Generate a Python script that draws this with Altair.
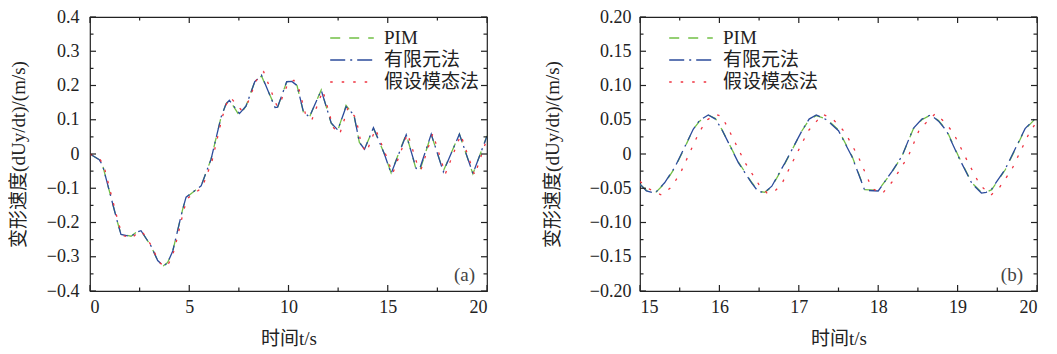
import altair as alt
import pandas as pd

SERIES = ["PIM", "有限元法", "假设模态法"]
COLORS = ["#72c046", "#2c4c9c", "#ef3340"]
DASHES = [[10, 9], [15, 5, 2, 5], [2.5, 9]]

# ---------- panel (a): 0-20 s ----------
a_pim_t = [0, 0.47, 0.64, 1.39, 1.56, 2.07, 2.32, 2.57, 3.07, 3.41, 3.7, 3.91, 4.17, 4.67, 4.84,
           5.6, 6.1, 6.6, 6.85, 7.02, 7.53, 7.86, 8.3, 8.64, 9.32, 9.45, 9.91, 10.17, 10.43, 10.75,
           11.05, 11.65, 12.15, 12.48, 12.9, 13.3, 13.57, 13.83, 14.28, 14.83, 15.17, 15.93, 16.43,
           16.6, 17.19, 17.8, 18.61, 19.29, 20.0]
a_pim_v = [0, -0.017, -0.034, -0.2, -0.234, -0.24, -0.229, -0.224, -0.268, -0.311, -0.326, -0.317,
           -0.283, -0.161, -0.127, -0.093, -0.015, 0.107, 0.146, 0.158, 0.112, 0.14, 0.211, 0.228,
           0.138, 0.136, 0.211, 0.214, 0.2, 0.122, 0.107, 0.187, 0.09, 0.068, 0.142, 0.112, 0.034,
           0.015, 0.075, 0.0, -0.055, 0.058, -0.045, -0.052, 0.057, -0.05, 0.058, -0.058, 0.053]
a_fem_t = a_pim_t
a_fem_v = [0, -0.017, -0.034, -0.2, -0.235, -0.241, -0.229, -0.224, -0.268, -0.311, -0.327, -0.318,
           -0.283, -0.161, -0.126, -0.093, -0.015, 0.107, 0.146, 0.157, 0.118, 0.14, 0.211, 0.23,
           0.136, 0.137, 0.211, 0.212, 0.2, 0.124, 0.108, 0.186, 0.091, 0.07, 0.138, 0.114, 0.034,
           0.014, 0.077, 0.0, -0.057, 0.056, -0.042, -0.045, 0.058, -0.052, 0.058, -0.057, 0.052]
a_asm_t = [0, 0.5, 0.7, 1.45, 1.65, 2.12, 2.35, 2.62, 3.12, 3.46, 3.78, 3.98, 4.25, 4.72, 4.9,
           5.65, 6.15, 6.65, 6.9, 7.08, 7.6, 7.92, 8.38, 8.75, 9.42, 9.55, 10.0, 10.27, 10.5, 10.85,
           11.18, 11.73, 12.25, 12.58, 13.0, 13.4, 13.68, 13.93, 14.38, 14.92, 15.25, 16.0, 16.55,
           16.68, 17.27, 17.9, 18.68, 19.38, 20.0]
a_asm_v = [0, -0.015, -0.035, -0.205, -0.238, -0.246, -0.232, -0.226, -0.27, -0.315, -0.33, -0.318,
           -0.28, -0.165, -0.13, -0.098, -0.02, 0.105, 0.15, 0.165, 0.13, 0.145, 0.215, 0.24, 0.14,
           0.145, 0.21, 0.215, 0.195, 0.118, 0.1, 0.185, 0.078, 0.058, 0.135, 0.105, 0.025, 0.005,
           0.073, -0.005, -0.057, 0.06, -0.042, -0.045, 0.06, -0.058, 0.056, -0.062, 0.045]

# ---------- panel (b): 15-20 s ----------
b_pim_t = [15.0, 15.08, 15.19, 15.31, 15.44, 15.57, 15.67, 15.75, 15.86, 15.95, 16.03, 16.24, 16.41,
           16.49, 16.57, 16.66, 16.83, 17.04, 17.13, 17.22, 17.35, 17.5, 17.67, 17.83, 18.0, 18.17,
           18.3, 18.44, 18.55, 18.66, 18.76, 18.86, 19.01, 19.18, 19.3, 19.36, 19.43, 19.6, 19.85, 20.0]
b_pim_v = [-0.044, -0.053, -0.057, -0.043, -0.02, 0.011, 0.036, 0.048, 0.057, 0.052, 0.036, -0.012,
           -0.042, -0.054, -0.056, -0.048, -0.013, 0.034, 0.05, 0.056, 0.051, 0.035, -0.003, -0.052,
           -0.053, -0.027, -0.003, 0.036, 0.05, 0.057, 0.049, 0.035, -0.003, -0.042, -0.056, -0.056,
           -0.052, -0.023, 0.036, 0.054]
b_fem_t = b_pim_t
b_fem_v = [-0.044, -0.054, -0.057, -0.042, -0.019, 0.012, 0.036, 0.049, 0.057, 0.051, 0.036, -0.013,
           -0.043, -0.055, -0.056, -0.047, -0.012, 0.034, 0.051, 0.057, 0.05, 0.034, -0.004, -0.053,
           -0.054, -0.026, -0.003, 0.037, 0.051, 0.057, 0.048, 0.034, -0.004, -0.043, -0.057, -0.056,
           -0.051, -0.022, 0.037, 0.055]
b_asm_t = [15.0, 15.1, 15.27, 15.4, 15.52, 15.65, 15.75, 15.85, 15.95, 16.03, 16.12, 16.32, 16.5,
           16.6, 16.68, 16.78, 16.92, 17.12, 17.3, 17.42, 17.58, 17.75, 17.92, 18.05, 18.18, 18.38,
           18.52, 18.72, 18.85, 18.95, 19.1, 19.28, 19.42, 19.52, 19.68, 19.9, 20.0]
b_asm_v = [-0.04, -0.05, -0.06, -0.048, -0.025, 0.008, 0.033, 0.05, 0.058, 0.055, 0.035, -0.012,
           -0.045, -0.057, -0.056, -0.045, -0.012, 0.034, 0.058, 0.052, 0.032, -0.004, -0.05, -0.058,
           -0.04, -0.003, 0.036, 0.059, 0.045, 0.03, -0.005, -0.045, -0.06, -0.05, -0.023, 0.03, 0.048]

# ---------- axes ----------
a_x_major = [0, 5, 10, 15, 20]
a_x_minor = [2.5, 7.5, 12.5, 17.5]
a_y_major = [-0.4, -0.3, -0.2, -0.1, 0, 0.1, 0.2, 0.3, 0.4]
a_y_minor = [-0.35, -0.25, -0.15, -0.05, 0.05, 0.15, 0.25, 0.35]
b_x_major = [15, 16, 17, 18, 19, 20]
b_x_minor = [15.5, 16.5, 17.5, 18.5, 19.5]
b_y_major = [-0.2, -0.15, -0.1, -0.05, 0, 0.05, 0.1, 0.15, 0.2]
b_y_minor = [-0.175, -0.125, -0.075, -0.025, 0.025, 0.075, 0.125, 0.175]

W, H = 397, 274
SERIF = "Liberation Serif"
CJK = "Liberation Serif, Noto Sans CJK SC"
INK = "#222"


def frame(series_list):
    rows = []
    for name, ts, vs in series_list:
        for i, (t, v) in enumerate(zip(ts, vs)):
            rows.append({"t": t, "v": v, "s": name, "k": SERIES.index(name), "i": i})
    return pd.DataFrame(rows)


def panel(df, xdom, ydom, xmaj, xmin, ymaj, ymin, ydec, legx, tag, tagdx, ylp, ytp):
    base = alt.Chart(df)
    xs = alt.Scale(domain=xdom, nice=False, zero=False)
    ys = alt.Scale(domain=ydom, nice=False, zero=False)
    yexpr = f"datum.value == 0 ? '0' : format(datum.value, '.{ydec}f')"
    xaxis = alt.Axis(values=xmaj, title="时间t/s", ticks=False, domain=False, grid=False,
                     labelPadding=7, titlePadding=13, format="d", labelOverlap=False,
                     labelFont=SERIF, labelFontSize=18, labelColor=INK,
                     titleFont=CJK, titleFontSize=19, titleFontWeight="normal", titleColor=INK)
    yaxis = alt.Axis(values=ymaj, title="变形速度(dUy/dt)/(m/s)", ticks=False, domain=False,
                     grid=False, labelPadding=ylp, titlePadding=ytp, labelExpr=yexpr,
                     labelOverlap=False, labelFont=SERIF, labelFontSize=18, labelColor=INK,
                     titleFont=CJK, titleFontSize=19, titleFontWeight="normal", titleColor=INK)
    leg = alt.Legend(title=None, orient="none", legendX=legx, legendY=12, symbolType="stroke",
                     symbolSize=1900, symbolStrokeWidth=1.5, labelFont=CJK, labelFontSize=19,
                     labelColor=INK, labelOffset=9, rowPadding=3, padding=0, clipHeight=18)
    X = alt.X("t:Q", scale=xs, axis=xaxis)
    Y = alt.Y("v:Q", scale=ys, axis=yaxis)
    lines = base.mark_line(strokeWidth=1.3, clip=True).encode(
        x=X, y=Y,
        color=alt.Color("s:N", scale=alt.Scale(domain=SERIES, range=COLORS), legend=leg),
        strokeDash=alt.StrokeDash("s:N", scale=alt.Scale(domain=SERIES, range=DASHES), legend=leg),
        detail="k:N",
        order="i:Q",
    )

    def yticks(vals, size):
        d = alt.Chart(pd.DataFrame({"v": vals}))
        left = d.mark_rule(color=INK, strokeWidth=1.2).encode(y=Y, x=alt.value(0), x2=alt.value(size))
        right = d.mark_rule(color=INK, strokeWidth=1.2).encode(y=Y, x=alt.value(W - size), x2=alt.value(W))
        return [left, right]

    def xticks(vals, size):
        d = alt.Chart(pd.DataFrame({"t": vals}))
        bottom = d.mark_rule(color=INK, strokeWidth=1.2).encode(x=X, y=alt.value(H), y2=alt.value(H - size))
        top = d.mark_rule(color=INK, strokeWidth=1.2).encode(x=X, y=alt.value(0), y2=alt.value(size))
        return [bottom, top]

    label = alt.Chart(pd.DataFrame({"tag": [tag]})).mark_text(
        font=SERIF, fontSize=19, align="right", baseline="middle", color="#444"
    ).encode(text="tag:N", x=alt.value(W - tagdx), y=alt.value(H - 16))

    layers = [lines] + yticks(ymaj, 6) + yticks(ymin, 3.5) + xticks(xmaj, 6) + xticks(xmin, 3.5) + [label]
    return alt.layer(*layers).properties(width=W, height=H)


df_a = frame([("PIM", a_pim_t, a_pim_v), ("有限元法", a_fem_t, a_fem_v), ("假设模态法", a_asm_t, a_asm_v)])
df_b = frame([("PIM", b_pim_t, b_pim_v), ("有限元法", b_fem_t, b_fem_v), ("假设模态法", b_asm_t, b_asm_v)])

pa = panel(df_a, [0, 20], [-0.4, 0.4], a_x_major, a_x_minor, a_y_major, a_y_minor, 1, 239, "(a)", 12, 11, 18)
pb = panel(df_b, [15, 20], [-0.2, 0.2], b_x_major, b_x_minor, b_y_major, b_y_minor, 2, 28, "(b)", 14, 9, 27)

chart = alt.hconcat(pa, pb, spacing=53).resolve_scale(
    color="independent", strokeDash="independent"
).resolve_legend(color="independent", strokeDash="independent").properties(
    padding={"left": 0, "top": -1, "right": 0, "bottom": 0}, background="white"
).configure_view(stroke=INK, strokeWidth=1.2)

chart.save("out.html", embed_options={"renderer": "svg", "actions": False})
